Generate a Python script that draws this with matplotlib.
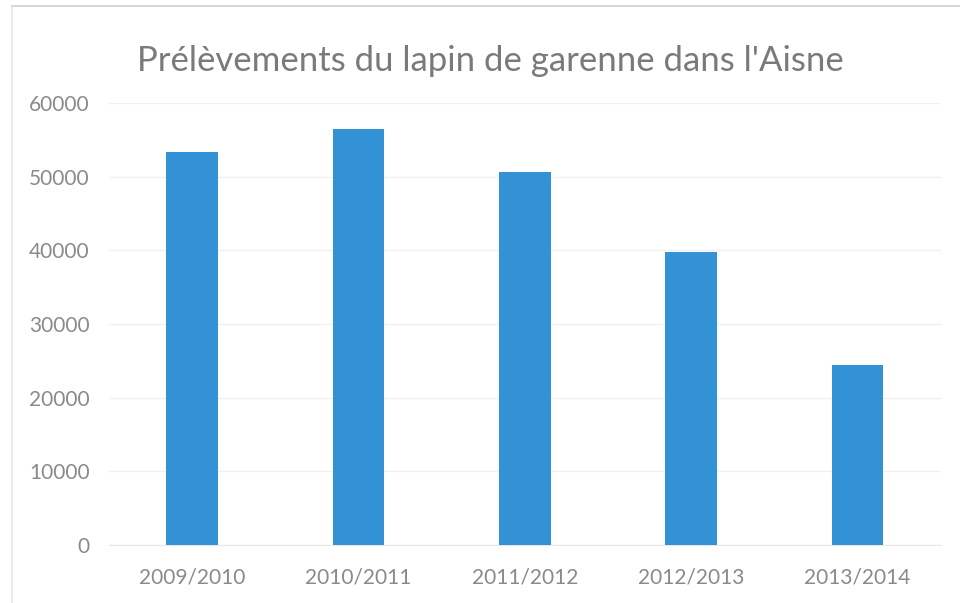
import numpy as np
import matplotlib
matplotlib.use('Agg')
import matplotlib.pyplot as plt

# data
seasons = ['2009/2010', '2010/2011', '2011/2012', '2012/2013', '2013/2014']
prelevements = [53300, 56500, 50600, 39800, 24500]
yticks = [0, 10000, 20000, 30000, 40000, 50000, 60000]

plt.rcParams['font.family'] = ['Lato', 'DejaVu Sans']

fig = plt.figure(figsize=(9.6, 6.03), dpi=100)
ax = fig.add_axes([0.1135, 0.0962, 0.8665, 0.7328])

x = np.arange(len(seasons))
ax.bar(x, prelevements, width=0.31, color='#3391d5', zorder=3)

ax.set_xlim(-0.5, len(seasons) - 0.5)
ax.set_ylim(0, 60000)
ax.set_yticks(yticks)
ax.set_yticklabels([str(v) for v in yticks])
ax.set_xticks(x)
ax.set_xticklabels(seasons)

ax.tick_params(axis='both', length=0, labelsize=15, colors='#8a8a8a')
ax.tick_params(axis='y', pad=14)
ax.tick_params(axis='x', pad=16)

ax.grid(axis='y', color='#f0f0f0', linewidth=1, zorder=0)
for s in ['top', 'right', 'left']:
    ax.spines[s].set_visible(False)
ax.spines['bottom'].set_color('#e8e8e8')

fig.text(0.511, 0.899, "Prélèvements du lapin de garenne dans l'Aisne",
         ha='center', va='center', fontsize=25, color='#7a7a7a')

# faint frame of the original chart area
fig.add_artist(plt.Line2D([0.013, 0.013], [0, 0.99], color='#e6e6e6', lw=1.2))
fig.add_artist(plt.Line2D([0.013, 1], [0.99, 0.99], color='#d0d0d0', lw=1.2))

fig.savefig('out.png', dpi=100)
